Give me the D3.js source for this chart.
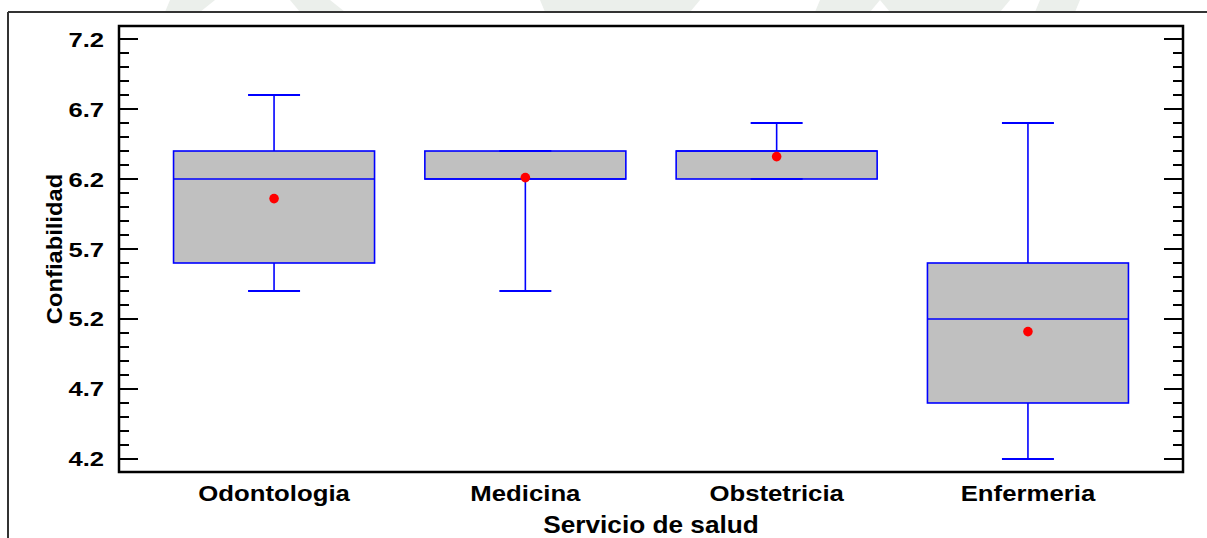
<!DOCTYPE html>
<html>
<head>
<meta charset="utf-8">
<script src="https://cdn.jsdelivr.net/npm/d3@7"></script>
<style>
  html, body { margin: 0; padding: 0; background: #fff; }
  svg { display: block; font-family: Arial, "Liberation Sans", sans-serif; }
</style>
</head>
<body>
<div id="chart"></div>
<script>
// ----- DATA -----
const categories   = ["Odontologia", "Medicina", "Obstetricia", "Enfermeria"];
const whiskerLow   = [5.4, 5.4, 6.2, 4.2];
const q1           = [5.6, 6.2, 6.2, 4.6];
const median       = [6.2, 6.2, 6.4, 5.2];
const q3           = [6.4, 6.4, 6.4, 5.6];
const whiskerHigh  = [6.8, 6.4, 6.6, 6.6];
const means        = [6.06, 6.21, 6.36, 5.11];
const majorTicks   = [4.2, 4.7, 5.2, 5.7, 6.2, 6.7, 7.2];
const xTitle = "Servicio de salud";
const yTitle = "Confiabilidad";

const W = 1207, H = 538;
const plot = { left: 119, right: 1183, top: 26, bottom: 472 };

const svg = d3.select("#chart").append("svg")
    .attr("width", W)
    .attr("height", H);

// faint watermark remnants above the outer frame
const wm = svg.append("g").attr("fill", "#ebefeb");
[[170,0,215,0,200,12,165,12],[290,0,330,0,345,12,300,12],[540,0,700,0,690,12,545,12],
 [820,0,880,0,870,12,815,12],[880,0,1010,0,1000,12,890,12],[1040,0,1080,0,1075,12,1035,12]]
  .forEach(p => wm.append("polygon").attr("points", d3.range(0, p.length, 2).map(i => p[i] + "," + p[i+1]).join(" ")));

// outer frame (top + left only visible)
svg.append("line").attr("x1", 8).attr("x2", W).attr("y1", 12).attr("y2", 12)
    .attr("stroke", "#333").attr("stroke-width", 2);
svg.append("line").attr("x1", 8).attr("x2", 8).attr("y1", 12).attr("y2", H)
    .attr("stroke", "#333").attr("stroke-width", 2);

// scales
const y = d3.scaleLinear().domain([4.107, 7.293]).range([plot.bottom, plot.top]);
const x = d3.scalePoint().domain(categories).range([plot.left, plot.right]).padding(0.617);
const boxW = 201, capW = 52;

// minor ticks every 0.1
const minorTicks = d3.range(42, 73).map(v => v / 10).filter(v => !majorTicks.some(m => Math.abs(m - v) < 1e-6));

const ticks = svg.append("g").attr("stroke", "#000").attr("stroke-width", 2);
majorTicks.forEach(v => {
    ticks.append("line").attr("x1", plot.left).attr("x2", plot.left + 19).attr("y1", y(v)).attr("y2", y(v));
    ticks.append("line").attr("x1", plot.right).attr("x2", plot.right - 19).attr("y1", y(v)).attr("y2", y(v));
});
minorTicks.forEach(v => {
    ticks.append("line").attr("x1", plot.left).attr("x2", plot.left + 10).attr("y1", y(v)).attr("y2", y(v));
    ticks.append("line").attr("x1", plot.right).attr("x2", plot.right - 10).attr("y1", y(v)).attr("y2", y(v));
});

// tick labels (horizontally stretched like the original)
majorTicks.forEach(v => {
    svg.append("text")
        .attr("transform", `translate(104,${y(v) + 7.5}) scale(1.22,1)`)
        .attr("text-anchor", "end")
        .attr("font-size", 21)
        .attr("font-weight", "bold")
        .text(d3.format(".1f")(v));
});

// boxes
const boxes = svg.append("g");
categories.forEach((c, i) => {
    const cx = x(c);
    const g = boxes.append("g");
    // whiskers
    g.append("line").attr("x1", cx).attr("x2", cx).attr("y1", y(q3[i])).attr("y2", y(whiskerHigh[i]))
        .attr("stroke", "#0000ff").attr("stroke-width", 1.6);
    g.append("line").attr("x1", cx).attr("x2", cx).attr("y1", y(q1[i])).attr("y2", y(whiskerLow[i]))
        .attr("stroke", "#0000ff").attr("stroke-width", 1.6);
    g.append("rect")
        .attr("x", cx - boxW / 2).attr("width", boxW)
        .attr("y", y(q3[i])).attr("height", y(q1[i]) - y(q3[i]))
        .attr("fill", "#c0c0c0").attr("stroke", "#0000ff").attr("stroke-width", 1.6);
    g.append("line").attr("x1", cx - boxW / 2).attr("x2", cx + boxW / 2).attr("y1", y(median[i])).attr("y2", y(median[i]))
        .attr("stroke", "#0000ff").attr("stroke-width", 1.6);
    // caps
    [whiskerHigh[i], whiskerLow[i]].forEach(v => {
        g.append("line").attr("x1", cx - capW / 2).attr("x2", cx + capW / 2).attr("y1", y(v)).attr("y2", y(v))
            .attr("stroke", "#0000ff").attr("stroke-width", 1.8);
    });
    g.append("circle").attr("cx", cx).attr("cy", y(means[i])).attr("r", 4.8).attr("fill", "#ff0000");
});

// plot frame
svg.append("rect")
    .attr("x", plot.left).attr("y", plot.top)
    .attr("width", plot.right - plot.left).attr("height", plot.bottom - plot.top)
    .attr("fill", "none").attr("stroke", "#000").attr("stroke-width", 2.5);

// category labels
categories.forEach(c => {
    svg.append("text")
        .attr("transform", `translate(${x(c)},501) scale(1.12,1)`)
        .attr("text-anchor", "middle")
        .attr("font-size", 23)
        .attr("font-weight", "bold")
        .text(c);
});

// axis titles
svg.append("text")
    .attr("transform", `translate(${(plot.left + plot.right) / 2},533) scale(1.14,1)`)
    .attr("text-anchor", "middle")
    .attr("font-size", 23)
    .attr("font-weight", "bold")
    .text(xTitle);

svg.append("text")
    .attr("transform", `translate(62,${(plot.top + plot.bottom) / 2}) rotate(-90) scale(1.08,1)`)
    .attr("text-anchor", "middle")
    .attr("font-size", 22)
    .attr("font-weight", "bold")
    .text(yTitle);
</script>
</body>
</html>
